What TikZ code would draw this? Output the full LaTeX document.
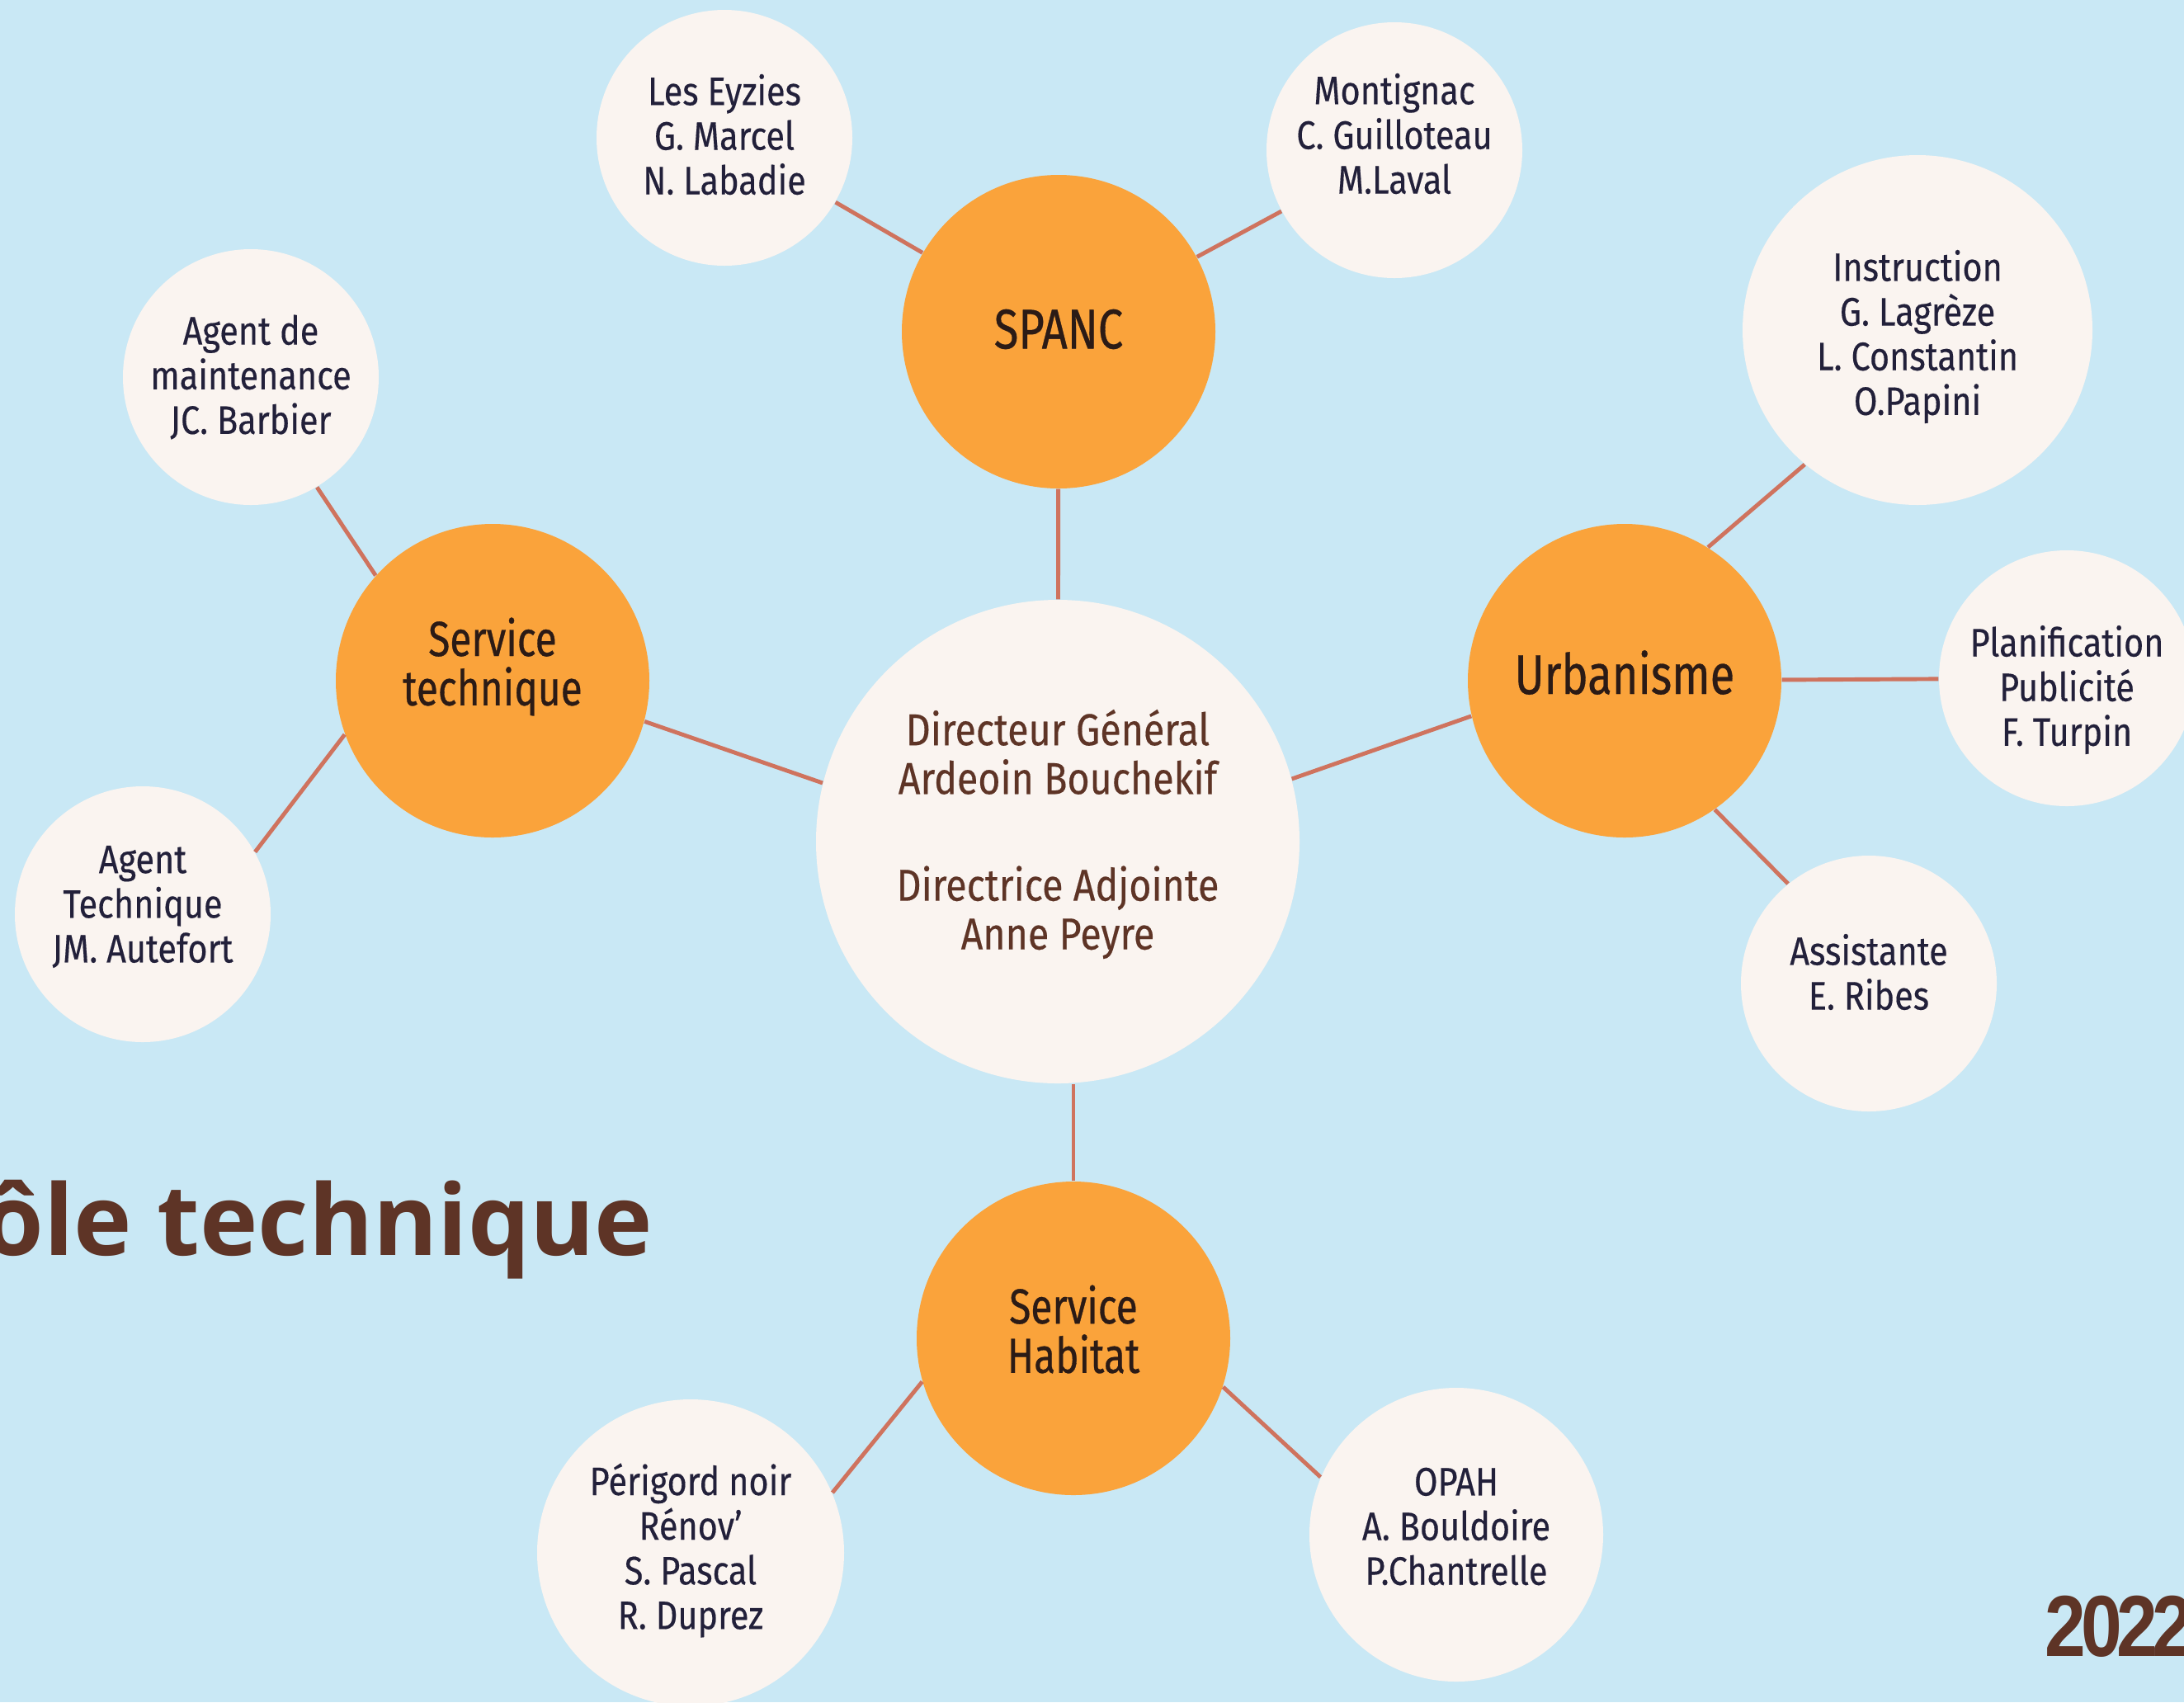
\documentclass[tikz,border=0pt]{standalone}
\usepackage{fontspec}
\setmainfont{Fira Sans}[FakeStretch=0.86,FakeBold=0.3]
\newfontfamily\orfont{Fira Sans}[FakeStretch=0.8,FakeBold=0.5]
\newfontfamily\titlefont{Open Sans}
\newfontfamily\yearfont{Liberation Sans}[FakeStretch=0.85,LetterSpace=-6]
\definecolor{sky}{HTML}{C9E8F5}
\definecolor{cream}{HTML}{FAF4F0}
\definecolor{orng}{HTML}{FAA33B}
\definecolor{rust}{HTML}{CF735E}
\definecolor{brun}{HTML}{5E3426}
\definecolor{navy}{HTML}{22203A}
\definecolor{ink}{HTML}{2B1B16}

\begin{document}
\begin{tikzpicture}[
  person/.style={circle, inner sep=0pt, fill=cream, minimum size=3.1cm},
  service/.style={circle, inner sep=0pt, fill=orng, minimum size=3.8cm},
  who/.style={align=center, inner sep=0pt, text=navy, font=\fontsize{13.7}{15.4}\selectfont},
  what/.style={align=center, inner sep=0pt, text=ink, font=\orfont\fontsize{17}{17}\selectfont},
  big/.style={what, font=\orfont\fontsize{19.3}{19.3}\selectfont},
  link/.style={draw=rust, line width=1.4pt}]
\path[use as bounding box, fill=sky] (0,0) rectangle (26.47,-20.63);

\draw (12.82,-10.20) node (dir) [person, minimum size=5.86cm,
  label={[who, text=brun, font=\fontsize{15.4}{16.8}\selectfont, yshift=0.09cm]center:{Directeur Général\\Ardeoin Bouchekif\\[20pt]Directrice Adjointe\\Anne Peyre}}] {};

\draw (12.83,-4.02)  node (spanc) [service, label={[big, yshift=0.03cm]center:SPANC}] {};
\draw (19.69,-8.25)  node (urb)   [service, label={[big, yshift=0.10cm]center:Urbanisme}] {};
\draw (5.97,-8.25)   node (tech)  [service, label={[what, yshift=0.17cm]center:{Service\\technique}}] {};
\draw (13.01,-16.22) node (hab)   [service, label={[what, yshift=0.11cm]center:{Service\\Habitat}}] {};

\draw (8.78,-1.67)   node (eyz)   [person, label={[who, yshift=0.04cm]center:{Les Eyzies\\G. Marcel\\N. Labadie}}] {};
\draw (16.90,-1.82)  node (mont)  [person, label={[who, yshift=0.20cm]center:{Montignac\\C. Guilloteau\\M.Laval}}] {};
\draw (23.24,-4.00)  node (instr) [person, minimum size=4.24cm,
  label={[who, yshift=-0.08cm]center:{Instruction\\G. Lagrèze\\L. Constantin\\O.Papini}}] {};
\draw (25.05,-8.22)  node (plan)  [person, label={[who, yshift=-0.14cm]center:{Planification\\Publicité\\F. Turpin}}] {};
\draw (22.65,-11.92) node (asst)  [person, label={[who, yshift=0.14cm]center:{Assistante\\E. Ribes}}] {};
\draw (17.65,-18.60) node (opah)  [person, minimum size=3.56cm,
  label={[who, yshift=0.10cm]center:{OPAH\\A. Bouldoire\\P.Chantrelle}}] {};
\draw (8.37,-18.82)  node (peri)  [person, minimum size=3.72cm,
  label={[who, yshift=0.03cm]center:{Périgord noir\\Rénov'\\S. Pascal\\R. Duprez}}] {};
\draw (3.04,-4.57)   node (maint) [person, label={[who]center:{Agent de\\maintenance\\JC. Barbier}}] {};
\draw (1.73,-11.08)  node (atech) [person, label={[who, yshift=0.09cm]center:{Agent\\Technique\\JM. Autefort}}] {};

\draw[link] (spanc) -- (dir);
\draw[link] (hab.north) -- (hab.north |- dir.south);
\draw[link] (tech.-15) -- (dir.166);
\draw[link] (dir.15) -- (urb.193);
\draw[link] (eyz) -- (spanc);
\draw[link] (spanc) -- (mont);
\draw[link] (urb.58) -- (instr.230);
\draw[link] (urb) -- (plan);
\draw[link] (urb.-55) -- (asst.129);
\draw[link] (maint.-59) -- (tech.138);
\draw[link] (atech.29) -- (tech.200);
\draw[link] (peri.23) -- (hab.196);
\draw[link] (hab.-18) -- (opah.157);

\node (title) [anchor=base east, inner sep=0pt, text=brun, font=\titlefont\bfseries\fontsize{33.9}{40}\selectfont]
  at (7.92,-15.21) {Pôle technique};
\node (year) [anchor=base west, inner sep=0pt, text=brun, font=\yearfont\bfseries\fontsize{29.9}{30}\selectfont]
  at (24.78,-20.07) {2022};
\end{tikzpicture}
\end{document}
